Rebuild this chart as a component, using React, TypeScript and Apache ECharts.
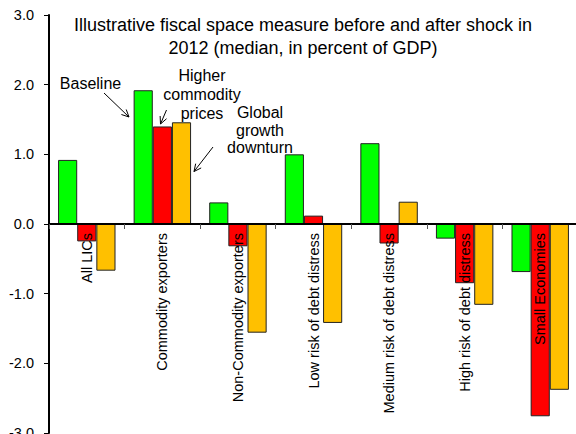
import React, { useEffect, useRef } from "react";
import * as echarts from "echarts";

const categories = [
  "All LICs",
  "Commodity exporters",
  "Non-Commodity exporters",
  "Low risk of debt distress",
  "Medium risk of debt distress",
  "High risk of debt distress",
  "Small Economies",
];
const baseline = [0.92, 1.92, 0.31, 1.0, 1.16, -0.21, -0.69];
const higherCommodityPrices = [-0.25, 1.4, -0.32, 0.12, -0.28, -0.85, -2.76];
const globalGrowthDownturn = [-0.67, 1.46, -1.56, -1.42, 0.32, -1.16, -2.38];
const yTicks = { min: -3, max: 3, interval: 1 };

const FONT = "'Liberation Sans', Arial, sans-serif";
const GRID = { left: 49, top: 15, width: 529, height: 418 };
// distance from grid bottom to the zero value, derived from the y range
const zeroOffset = ((0 - yTicks.min) / (yTicks.max - yTicks.min)) * GRID.height;

function arrow(x1: number, y1: number, x2: number, y2: number) {
  const ang = Math.atan2(y2 - y1, x2 - x1);
  const len = 8;
  const spread = 0.45;
  const p1 = [x2 - len * Math.cos(ang - spread), y2 - len * Math.sin(ang - spread)];
  const p2 = [x2 - len * Math.cos(ang + spread), y2 - len * Math.sin(ang + spread)];
  return {
    type: "group",
    children: [
      { type: "line", shape: { x1, y1, x2, y2 }, style: { stroke: "#000", lineWidth: 1 } },
      { type: "polyline", shape: { points: [p1, [x2, y2], p2] }, style: { stroke: "#000", lineWidth: 1, fill: null } },
    ],
  };
}

export default function App() {
  const ref = useRef<HTMLDivElement>(null);
  useEffect(() => {
    if (!ref.current) return;
    const chart = echarts.init(ref.current, null, { renderer: "svg" });
    const barStyle = (color: string) => ({ color, borderColor: "#222", borderWidth: 1 });
    chart.setOption({
      animation: false,
      backgroundColor: "#fff",
      textStyle: { fontFamily: FONT },
      grid: { ...GRID, containLabel: false, outerBoundsMode: "none" },
      xAxis: {
        type: "category",
        data: categories,
        z: 10,
        offset: -zeroOffset,
        axisLine: { onZero: false, lineStyle: { color: "#000", width: 2 } },
        axisTick: { show: true, length: 5, alignWithLabel: false, lineStyle: { color: "#555", width: 1 } },
        axisLabel: { rotate: 90, interval: 0, fontSize: 14.5, color: "#000", margin: 9, fontFamily: FONT },
        splitLine: { show: false },
      },
      yAxis: {
        type: "value",
        min: yTicks.min,
        max: yTicks.max,
        interval: yTicks.interval,
        axisLine: { show: true, lineStyle: { color: "#000", width: 2 } },
        axisTick: { show: true, length: 5, lineStyle: { color: "#000", width: 1 } },
        axisLabel: { fontSize: 14.5, color: "#000", margin: 15, fontFamily: FONT, formatter: (v: number) => v.toFixed(1) },
        splitLine: { show: false },
      },
      series: [
        { name: "Baseline", type: "bar", data: baseline, barGap: "0%", barCategoryGap: "24%", itemStyle: barStyle("#00ff00") },
        { name: "Higher commodity prices", type: "bar", data: higherCommodityPrices, itemStyle: barStyle("#ff0000") },
        { name: "Global growth downturn", type: "bar", data: globalGrowthDownturn, itemStyle: barStyle("#ffc000") },
      ],
      graphic: [
        {
          type: "text",
          x: 303,
          y: 13.5,
          style: {
            text: "Illustrative fiscal space measure before and after shock in\n2012 (median, in percent of GDP)",
            font: `18px ${FONT}`,
            fill: "#000",
            align: "center",
            lineHeight: 23,
          },
        },
        {
          type: "text",
          x: 90.5,
          y: 74,
          style: { text: "Baseline", font: `16px ${FONT}`, fill: "#000", align: "center", lineHeight: 18 },
        },
        {
          type: "text",
          x: 202,
          y: 66,
          style: { text: "Higher\ncommodity\nprices", font: `16px ${FONT}`, fill: "#000", align: "center", lineHeight: 19 },
        },
        {
          type: "text",
          x: 260,
          y: 104,
          style: { text: "Global\ngrowth\ndownturn", font: `16px ${FONT}`, fill: "#000", align: "center", lineHeight: 17.5 },
        },
        arrow(104, 93, 129, 117),
        arrow(166.5, 110, 160.5, 124),
        arrow(213, 147, 194, 171.5),
      ],
    });
    return () => chart.dispose();
  }, []);
  return <div ref={ref} style={{ position: "fixed", left: 0, top: 0, width: 576, height: 434 }} />;
}
